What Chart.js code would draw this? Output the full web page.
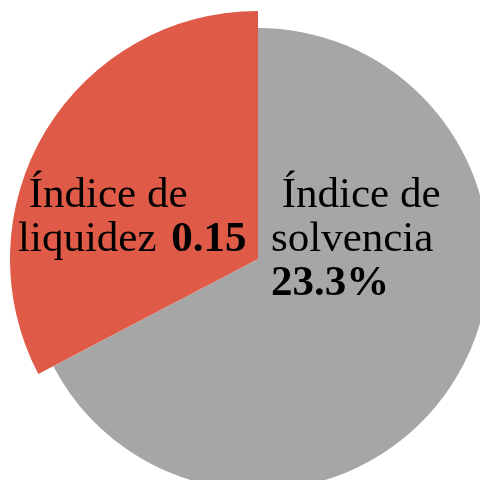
<!DOCTYPE html>
<html>
<head>
<meta charset="utf-8">
<script src="https://cdn.jsdelivr.net/npm/chart.js@4"></script>
<style>
  html, body { margin: 0; padding: 0; background: #fff; }
  #wrap { position: relative; width: 480px; height: 480px; overflow: hidden; }
  #fig_container { position: absolute; left: 10px; top: 11px; }
</style>
</head>
<body>
<div id="wrap">
  <canvas id="fig_container" width="496" height="496"></canvas>
</div>
<script>
// slices go clockwise from 12 o'clock: solvencia first, then liquidez
const categories = ["Índice de solvencia", "Índice de liquidez"];
const values = [0.309, 0.15];
const colors = ['#A6A6A6', '#E05A48'];

// text drawn on each slice: two plain lines, then the bold figure
const label_lines = [
    [" Índice de", "solvencia"],
    [" Índice de", "liquidez "]
];
const label_values = ["23.3%", "0.15"];

const font_family = "'Liberation Serif', 'Times New Roman', serif";
const font_size = 43;

// the grey slice is drawn a little smaller than the red one
const grey_scale = 231 / 248;

const shrink_grey = {
    id: 'shrink_grey',
    afterDatasetsUpdate(chart) {
        const arcs = chart.getDatasetMeta(0).data;
        arcs[0].outerRadius = arcs[1].outerRadius * grey_scale;
    }
};

const slice_text = {
    id: 'slice_text',
    afterDraw(chart) {
        const ctx = chart.ctx;
        const arc = chart.getDatasetMeta(0).data[0];
        const cx = arc.x, cy = arc.y;
        const lead = 44;
        // left edge of each label block, relative to the centre
        const x0 = [cx + 13, cx - 240];
        const top = cy - 52;

        ctx.save();
        ctx.fillStyle = '#000';
        ctx.textBaseline = 'alphabetic';
        ctx.textAlign = 'left';

        // grey slice: value on its own third line
        ctx.font = font_size + "px " + font_family;
        ctx.fillText(label_lines[0][0], x0[0], top);
        ctx.fillText(label_lines[0][1], x0[0], top + lead);
        ctx.font = "bold " + font_size + "px " + font_family;
        ctx.fillText(label_values[0], x0[0], top + lead * 2);

        // red slice: value follows "liquidez" on the second line
        ctx.font = font_size + "px " + font_family;
        ctx.fillText(label_lines[1][0], x0[1], top);
        ctx.fillText(label_lines[1][1], x0[1], top + lead);
        const w = ctx.measureText(label_lines[1][1]).width + 4;
        ctx.font = "bold " + font_size + "px " + font_family;
        ctx.fillText(label_values[1], x0[1] + w, top + lead);

        ctx.restore();
    }
};

const make_chart = () => {
    const pie_chart = document.getElementById('fig_container').getContext('2d');
    new Chart(pie_chart, {
        type: 'pie',
        data: {
            labels: categories,
            datasets: [{
                data: values,
                backgroundColor: colors,
                borderWidth: 0,
                hoverOffset: 0
            }]
        },
        options: {
            responsive: false,
            animation: false,
            events: [],
            layout: { padding: 0 },
            plugins: {
                legend: { display: false },
                tooltip: { enabled: false }
            }
        },
        plugins: [shrink_grey, slice_text]
    });
}

make_chart();
</script>
</body>
</html>
